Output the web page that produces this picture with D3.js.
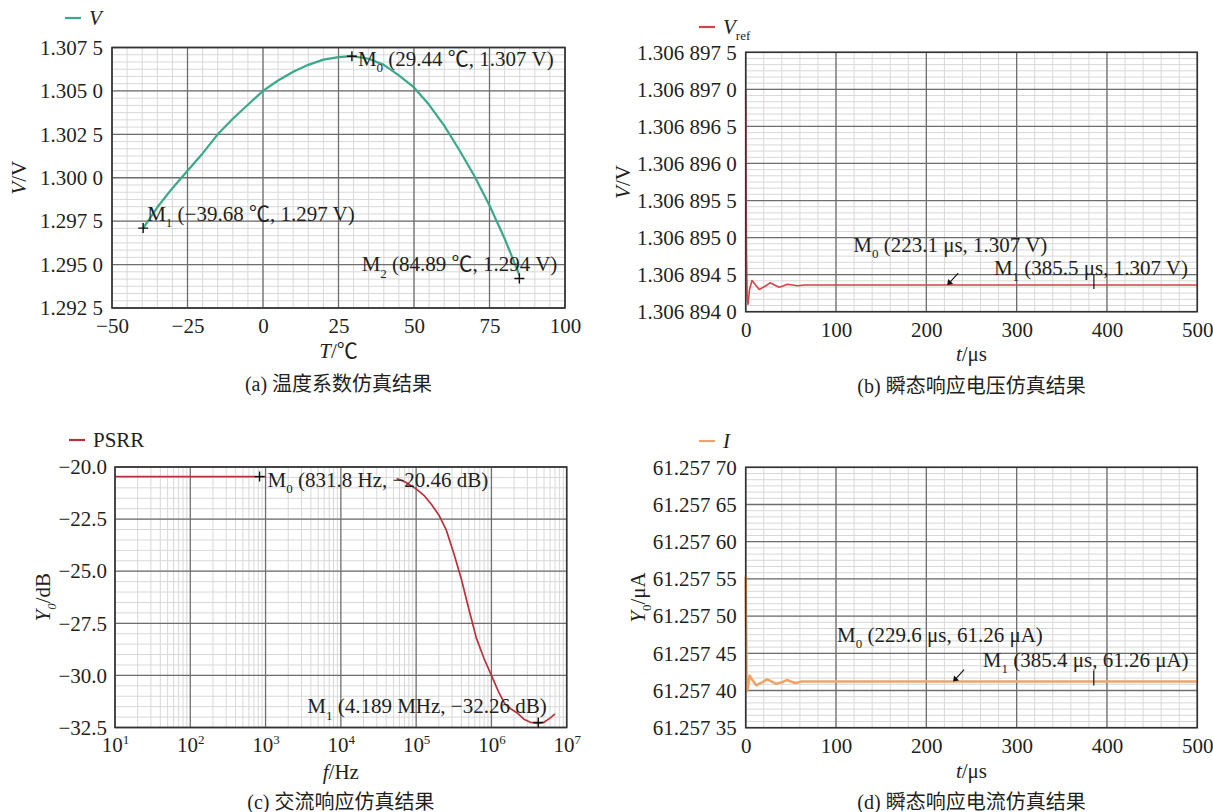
<!DOCTYPE html>
<html>
<head>
<meta charset="utf-8">
<title>Simulation results</title>
<script src="https://cdn.jsdelivr.net/npm/d3@7"></script>
<style>
body { margin: 0; background: #fff; }
svg text { font-family: "Liberation Serif", "Times New Roman", "Noto Sans CJK SC", serif; fill: #231f20; }
</style>
</head>
<body>
<svg id="chart" width="1213" height="812"></svg>
<script>

// (a) temperature sweep
var tempC = [-39.68, -35, -30, -25, -20, -15, -10, -5, 0, 5, 10, 15, 20, 25, 29.44, 35, 40, 45, 50, 55, 60, 65, 70, 75, 80, 84.89];
var tempV = [1.2971, 1.2983, 1.2994, 1.3004, 1.3014, 1.3025, 1.3034, 1.3042, 1.3050, 1.3056, 1.3061, 1.3065, 1.3068, 1.30695, 1.3070,
             1.30685, 1.3065, 1.3059, 1.3052, 1.3042, 1.3030, 1.3016, 1.3001, 1.2984, 1.2965, 1.2944];
var aXTicks = [-50, -25, 0, 25, 50, 75, 100];
var aXLabels = ["−50", "−25", "0", "25", "50", "75", "100"];
var aYTicks = [1.2925, 1.2950, 1.2975, 1.3000, 1.3025, 1.3050, 1.3075];
var aYLabels = ["1.292 5", "1.295 0", "1.297 5", "1.300 0", "1.302 5", "1.305 0", "1.307 5"];
var aMarkX = [29.44, -39.68, 84.89];
var aMarkY = [1.3070, 1.2971, 1.2942];
var aMarkText = ["(29.44 ℃, 1.307 V)", "(−39.68 ℃, 1.297 V)", "(84.89 ℃, 1.294 V)"];

// (b) transient Vref
var bTime = [0, 0.4, 0.9, 1.6, 2.6, 4.2, 7, 11, 15, 21, 27, 32, 37, 42, 46, 52, 57, 65, 130, 500];
var bVref = [1.3068970, 1.3068957, 1.3068948, 1.3068942, 1.3068941, 1.3068943, 1.30689442, 1.30689436, 1.30689430, 1.30689434,
             1.30689439, 1.30689436, 1.30689433, 1.30689435, 1.30689437, 1.30689436, 1.30689435, 1.30689436, 1.30689436, 1.30689436];
var bXTicks = [0, 100, 200, 300, 400, 500];
var bYTicks = [1.3068940, 1.3068945, 1.3068950, 1.3068955, 1.3068960, 1.3068965, 1.3068970, 1.3068975];
var bYLabels = ["1.306 894 0", "1.306 894 5", "1.306 895 0", "1.306 895 5", "1.306 896 0", "1.306 896 5", "1.306 897 0", "1.306 897 5"];
var bMarkX = [223.1, 385.5];
var bMarkText = ["(223.1 μs, 1.307 V)", "(385.5 μs, 1.307 V)"];

// (c) PSRR, null = hidden part of the trace
var freqHz = [10, 831.8, 1000, 3e4, 5.5e4, 7e4, 1e5, 1.3e5, 1.6e5, 2e5, 2.5e5, 3.2e5, 4e5, 5e5, 6.3e5, 8e5, 1e6,
              1.25e6, 1.5e6, 1.8e6, 2.2e6, 2.7e6, 3.3e6, 4.189e6, 5e6, 6e6, 7e6];
var psrrDb = [-20.46, -20.46, -20.46, null, -20.55, -20.7, -21.05, -21.4, -21.8, -22.3, -23.0, -24.2, -25.4, -26.8, -28.2, -29.2, -30.0,
              -30.8, -31.35, -31.6, -31.8, -32.1, -32.25, -32.3, -32.25, -32.05, -31.85];
var cXTicks = [1e1, 1e2, 1e3, 1e4, 1e5, 1e6, 1e7];
var cXExp = ["1", "2", "3", "4", "5", "6", "7"];
var cYTicks = [-32.5, -30, -27.5, -25, -22.5, -20];
var cYLabels = ["−32.5", "−30.0", "−27.5", "−25.0", "−22.5", "−20.0"];
var cMarkX = [831.8, 4.189e6];
var cMarkY = [-20.46, -32.26];
var cMarkText = ["(831.8 Hz, −20.46 dB)", "(4.189 MHz, −32.26 dB)"];

// (d) transient current
var dTime = [0, 0.5, 1, 2, 4.3, 8, 11.7, 18, 23.8, 29, 34, 40, 45.5, 50, 55, 62, 160, 500];
var dCurrent = [61.257553, 61.257480, 61.257399, 61.257401, 61.257420, 61.257413, 61.257407, 61.257411, 61.257415,
                61.257412, 61.257409, 61.257411, 61.257414, 61.257412, 61.257410, 61.257412, 61.257412, 61.257412];
var dYTicks = [61.25735, 61.25740, 61.25745, 61.25750, 61.25755, 61.25760, 61.25765, 61.25770];
var dYLabels = ["61.257 35", "61.257 40", "61.257 45", "61.257 50", "61.257 55", "61.257 60", "61.257 65", "61.257 70"];
var dMarkX = [229.6, 385.4];
var dMarkText = ["(229.6 μs, 61.26 μA)", "(385.4 μs, 61.26 μA)"];

var svg = d3.select("#chart");
var FS = 21;

// text with italic / sub / sup pieces: style chars i = italic, b = subscript, p = superscript
function rich(t, parts, size) {
  var shift = 0;
  parts.forEach(function(p) {
    var st = p[1] || "";
    var s = t.append("tspan").text(p[0]);
    var want = st.indexOf("b") >= 0 ? size * 0.3 : (st.indexOf("p") >= 0 ? -size * 0.42 : 0);
    if (want !== shift) { s.attr("dy", want - shift); shift = want; }
    if (want !== 0) s.attr("font-size", size * 0.62);
    if (st.indexOf("i") >= 0) s.attr("font-style", "italic");
  });
  return t;
}

function drawPanel(p) {
  var g = svg.append("g");
  var x = p.x, y = p.y;
  var xl = x.range()[0], xr = x.range()[1], yb = y.range()[0], yt = y.range()[1];

  // minor grid
  g.append("g").selectAll("line").data(p.xMinor).join("line")
    .attr("x1", x).attr("x2", x).attr("y1", yt).attr("y2", yb)
    .attr("stroke", "#d8d8d8").attr("stroke-width", 1);
  g.append("g").selectAll("line").data(p.yMinor).join("line")
    .attr("y1", y).attr("y2", y).attr("x1", xl).attr("x2", xr)
    .attr("stroke", "#d8d8d8").attr("stroke-width", 1);
  // major grid
  g.append("g").selectAll("line").data(p.xTicks).join("line")
    .attr("x1", x).attr("x2", x).attr("y1", yt).attr("y2", yb)
    .attr("stroke", "#6e6e6e").attr("stroke-width", 1.3);
  g.append("g").selectAll("line").data(p.yTicks).join("line")
    .attr("y1", y).attr("y2", y).attr("x1", xl).attr("x2", xr)
    .attr("stroke", "#6e6e6e").attr("stroke-width", 1.3);

  // trace
  g.append("path").datum(d3.range(p.xs.length))
    .attr("fill", "none").attr("stroke", p.color).attr("stroke-width", p.width)
    .attr("stroke-linejoin", "round")
    .attr("d", d3.line().defined(function(i) { return p.ys[i] != null; })
      .x(function(i) { return x(p.xs[i]); }).y(function(i) { return y(p.ys[i]); }));

  // frame
  g.append("rect").attr("x", xl).attr("y", yt).attr("width", xr - xl).attr("height", yb - yt)
    .attr("fill", "none").attr("stroke", "#333").attr("stroke-width", 1.6);

  // axes
  var ax = g.append("g").attr("transform", "translate(0," + yb + ")")
    .call(d3.axisBottom(x).tickValues(p.xTicks).tickSize(0).tickPadding(10)
      .tickFormat(function(d, i) { return p.xLabels ? p.xLabels[i] : ""; }));
  ax.select(".domain").remove();
  ax.attr("font-family", null).attr("font-size", FS);
  ax.selectAll("text").attr("fill", "#231f20");
  if (p.xExp) {
    ax.selectAll(".tick text").each(function(d, i) {
      rich(d3.select(this), [["10", ""], [p.xExp[i], "p"]], FS);
    });
  }
  var ay = g.append("g").attr("transform", "translate(" + xl + ",0)")
    .call(d3.axisLeft(y).tickValues(p.yTicks).tickSize(0).tickPadding(p.yPad)
      .tickFormat(function(d, i) { return p.yLabels[i]; }));
  ay.select(".domain").remove();
  ay.attr("font-family", null).attr("font-size", FS);
  ay.selectAll("text").attr("fill", "#231f20");

  // titles
  rich(g.append("text").attr("x", (xl + xr) / 2).attr("y", p.xTitleY)
    .attr("text-anchor", "middle").attr("font-size", FS), p.xTitle, FS);
  rich(g.append("text").attr("transform", "translate(" + p.yTitleX + "," + (yt + yb) / 2 + ") rotate(-90)")
    .attr("text-anchor", "middle").attr("font-size", FS), p.yTitle, FS);
  g.append("text").attr("x", (xl + xr) / 2).attr("y", p.capY)
    .attr("text-anchor", "middle").attr("font-size", 20).text(p.caption);

  // legend
  g.append("line").attr("x1", p.legX).attr("x2", p.legX + 16).attr("y1", p.legY).attr("y2", p.legY)
    .attr("stroke", p.color).attr("stroke-width", 2.2);
  rich(g.append("text").attr("x", p.legX + 24).attr("y", p.legY + 7).attr("font-size", FS), p.legend, FS);

  return g;
}

function label(g, tx, ty, idx, text, anchor) {
  rich(g.append("text").attr("x", tx).attr("y", ty).attr("font-size", FS)
    .attr("text-anchor", anchor || "start"), [["M", ""], [idx, "b"], [" " + text, ""]], FS);
}
function plus(g, px, py) {
  g.append("path").attr("d", "M" + (px - 5) + "," + py + "h10M" + px + "," + (py - 5) + "v10")
    .attr("stroke", "#111").attr("stroke-width", 1.4);
}
function arrowSW(g, px, py) {
  g.append("path").attr("d", "M" + (px + 11) + "," + (py - 12) + "L" + (px + 1) + "," + (py - 1))
    .attr("stroke", "#111").attr("stroke-width", 1.1);
  g.append("path").attr("d", "M" + px + "," + py + "l1,-6l5,5z").attr("fill", "#111");
}
function arrowDown(g, px, py) {
  g.append("path").attr("d", "M" + px + "," + (py - 11) + "V" + (py + 4))
    .attr("stroke", "#111").attr("stroke-width", 1.2);
}

// ---- (a)
var ax_ = d3.scaleLinear().domain([-50, 100]).range([112, 565]);
var ay_ = d3.scaleLinear().domain([1.2925, 1.3075]).range([308, 47.5]);
var ga = drawPanel({
  x: ax_, y: ay_, xs: tempC, ys: tempV, color: "#3aa98a", width: 2.2,
  xTicks: aXTicks, xLabels: aXLabels, yTicks: aYTicks, yLabels: aYLabels, yPad: 9,
  xMinor: d3.range(-50, 100.1, 5), yMinor: d3.range(0, 37).map(function(k) { return 1.2925 + k * 0.0025 / 6; }),
  xTitle: [["T", "i"], ["/℃", ""]], xTitleY: 358, yTitle: [["V", "i"], ["/V", ""]], yTitleX: 26,
  caption: "(a) 温度系数仿真结果", capY: 391, legend: [["V", "i"]], legX: 65, legY: 18
});
aMarkX.forEach(function(t, i) { plus(ga, ax_(t), ay_(aMarkY[i])); });
label(ga, ax_(aMarkX[0]) + 6, ay_(aMarkY[0]) + 10, "0", aMarkText[0]);
label(ga, ax_(aMarkX[1]) + 4, ay_(aMarkY[1]) - 7, "1", aMarkText[1]);
label(ga, ax_(aMarkX[2]) + 38, ay_(aMarkY[2]) - 7, "2", aMarkText[2], "end");

// ---- (b)
var bx_ = d3.scaleLinear().domain([0, 500]).range([745.7, 1197.3]);
var by_ = d3.scaleLinear().domain([1.3068940, 1.3068975]).range([311.7, 52.3]);
var gb = drawPanel({
  x: bx_, y: by_, xs: bTime, ys: bVref, color: "#d0454a", width: 1.6,
  xTicks: bXTicks, xLabels: bXTicks.map(String), yTicks: bYTicks, yLabels: bYLabels, yPad: 9,
  xMinor: d3.range(0, 500.1, 20), yMinor: d3.range(0, 43).map(function(k) { return 1.306894 + k * 0.5e-6 / 6; }),
  xTitle: [["t", "i"], ["/μs", ""]], xTitleY: 361, yTitle: [["V", "i"], ["/V", ""]], yTitleX: 630,
  caption: "(b) 瞬态响应电压仿真结果", capY: 393, legend: [["V", "i"], ["ref", "b"]], legX: 699, legY: 27
});
var bSteady = bVref[bVref.length - 1];
arrowSW(gb, bx_(bMarkX[0]), by_(bSteady));
arrowDown(gb, bx_(bMarkX[1]), by_(bSteady));
label(gb, bx_(bMarkX[0]) - 94, by_(bSteady) - 33, "0", bMarkText[0]);
label(gb, bx_(bMarkX[1]) - 100, by_(bSteady) - 10, "1", bMarkText[1]);

// ---- (c)
var cx_ = d3.scaleLog().domain([10, 1e7]).range([115, 566.7]);
var cy_ = d3.scaleLinear().domain([-32.5, -20]).range([727.5, 467]);
var cMinor = [];
for (var k = 1; k < 7; k++) for (var m = 2; m < 10; m++) cMinor.push(m * Math.pow(10, k));
var gc = drawPanel({
  x: cx_, y: cy_, xs: freqHz, ys: psrrDb, color: "#b8323c", width: 1.7,
  xTicks: cXTicks, xExp: cXExp, yTicks: cYTicks, yLabels: cYLabels, yPad: 8,
  xMinor: cMinor, yMinor: d3.range(-32.5, -19.9, 0.5),
  xTitle: [["f", "i"], ["/Hz", ""]], xTitleY: 779, yTitle: [["Y", "i"], ["0", "ib"], ["/dB", ""]], yTitleX: 50,
  caption: "(c) 交流响应仿真结果", capY: 809, legend: [["PSRR", ""]], legX: 69, legY: 440
});
cMarkX.forEach(function(f, i) { plus(gc, cx_(f), cy_(cMarkY[i])); });
label(gc, cx_(cMarkX[0]) + 8, cy_(cMarkY[0]) + 10, "0", cMarkText[0]);
label(gc, cx_(cMarkX[1]) - 231, cy_(cMarkY[1]) - 9, "1", cMarkText[1]);

// ---- (d)
var dx_ = d3.scaleLinear().domain([0, 500]).range([745.7, 1197.3]);
var dy_ = d3.scaleLinear().domain([61.25735, 61.25770]).range([727.7, 467.3]);
var gd = drawPanel({
  x: dx_, y: dy_, xs: dTime, ys: dCurrent, color: "#eea468", width: 2.6,
  xTicks: bXTicks, xLabels: bXTicks.map(String), yTicks: dYTicks, yLabels: dYLabels, yPad: 9,
  xMinor: d3.range(0, 500.1, 20), yMinor: d3.range(0, 43).map(function(k) { return 61.25735 + k * 0.00005 / 6; }),
  xTitle: [["t", "i"], ["/μs", ""]], xTitleY: 778, yTitle: [["Y", "i"], ["0", "b"], ["/μA", ""]], yTitleX: 645,
  caption: "(d) 瞬态响应电流仿真结果", capY: 809, legend: [["I", "i"]], legX: 699, legY: 441
});
var dSteady = dCurrent[dCurrent.length - 1];
arrowSW(gd, dx_(dMarkX[0]), dy_(dSteady));
arrowDown(gd, dx_(dMarkX[1]), dy_(dSteady));
label(gd, dx_(dMarkX[0]) - 116, dy_(dSteady) - 40, "0", dMarkText[0]);
label(gd, dx_(dMarkX[1]) - 111, dy_(dSteady) - 15, "1", dMarkText[1]);

</script>
</body>
</html>
